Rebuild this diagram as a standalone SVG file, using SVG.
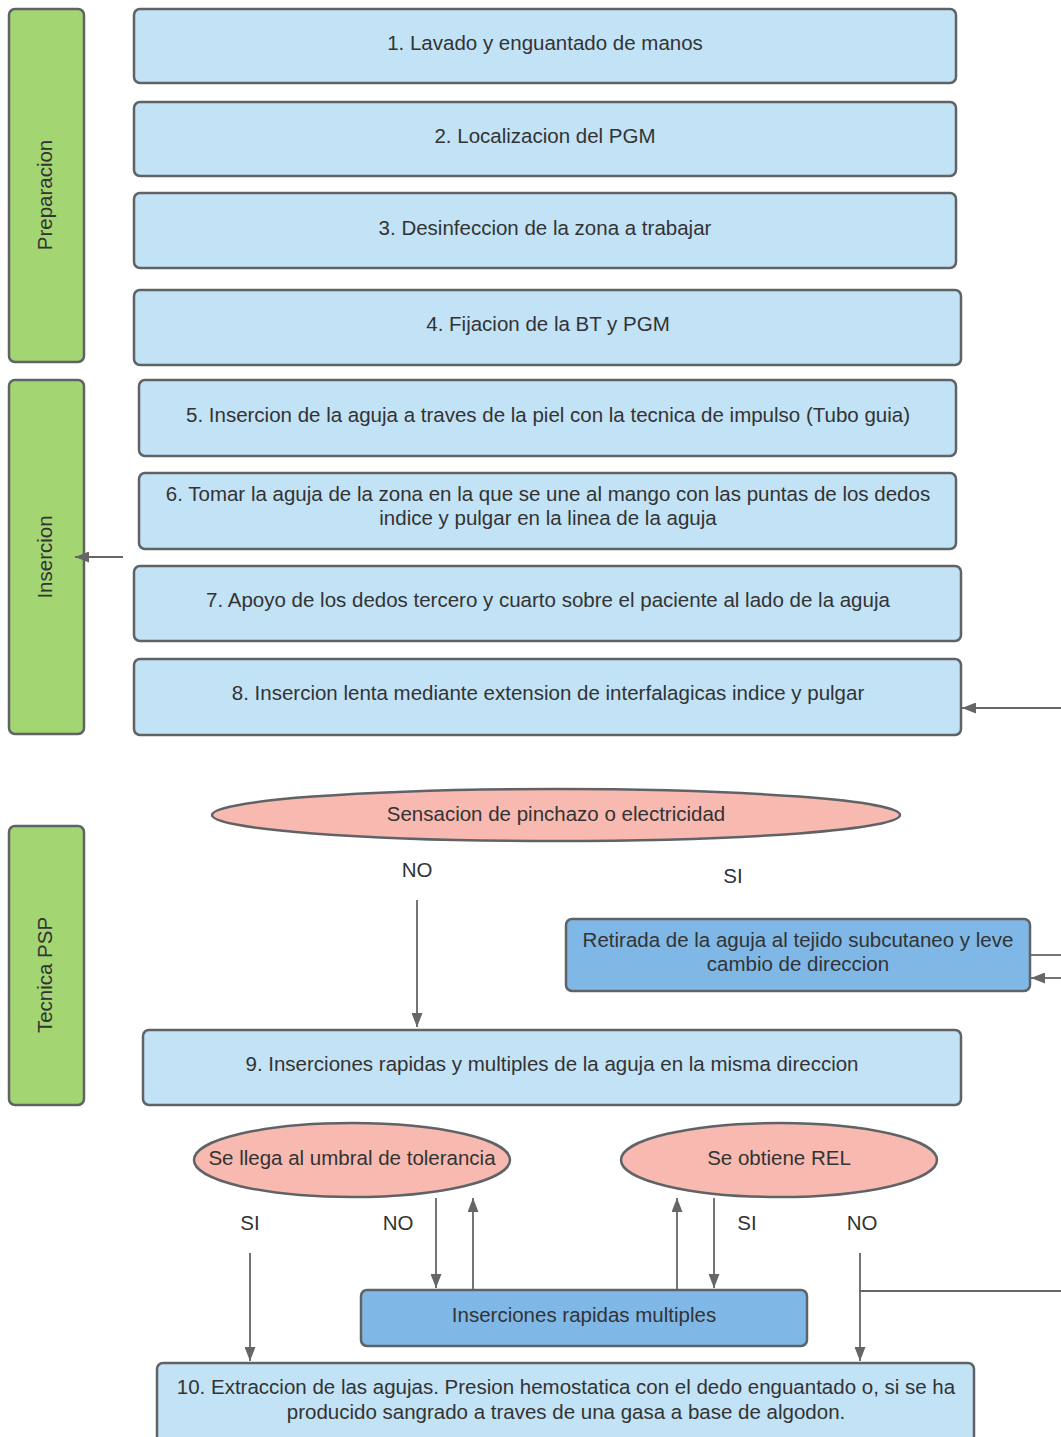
<svg xmlns="http://www.w3.org/2000/svg" width="1061" height="1437" viewBox="0 0 1061 1437">
<defs>
<style>
.g{fill:#a3d572;stroke:#5f6366;stroke-width:2.5}
.b{fill:#c2e2f6;stroke:#5f6366;stroke-width:2.5}
.d{fill:#7fb8e6;stroke:#5f6366;stroke-width:2.5}
.p{fill:#f8b9b1;stroke:#5f6366;stroke-width:2.5}
text{font-family:"Liberation Sans",Arial,sans-serif;font-size:20.5px;fill:#333;text-anchor:middle;dominant-baseline:central}
.c{fill:none;stroke:#666;stroke-width:1.8}
</style>
<marker id="ah" viewBox="0 0 14 11" refX="14" refY="5.5" markerWidth="14" markerHeight="11" orient="auto" markerUnits="userSpaceOnUse"><path d="M0,0 L14,5.5 L0,11 z" fill="#666"/></marker>
</defs>
<rect width="1061" height="1437" fill="#fff"/>
<g id="prep"><rect class="g" x="9" y="9" width="75" height="353" rx="6"/><text transform="translate(44,195) rotate(-90)">Preparacion</text></g>
<g id="ins"><rect class="g" x="9" y="380" width="75" height="354" rx="6"/><text transform="translate(44,557) rotate(-90)">Insercion</text></g>
<g id="psp"><rect class="g" x="9" y="826" width="75" height="279" rx="6"/><text transform="translate(44,975) rotate(-90)">Tecnica PSP</text></g>

<g id="n1"><rect class="b" x="134" y="9" width="822" height="74" rx="6"/><text x="545" y="42">1. Lavado y enguantado de manos</text></g>
<g id="n2"><rect class="b" x="134" y="102" width="822" height="74" rx="6"/><text x="545" y="135">2. Localizacion del PGM</text></g>
<g id="n3"><rect class="b" x="134" y="193" width="822" height="75" rx="6"/><text x="545" y="227">3. Desinfeccion de la zona a trabajar</text></g>
<g id="n4"><rect class="b" x="134" y="290" width="827" height="75" rx="6"/><text x="548" y="323">4. Fijacion de la BT y PGM</text></g>
<g id="n5"><rect class="b" x="139" y="380" width="817" height="76" rx="6"/><text x="548" y="414">5. Insercion de la aguja a traves de la piel con la tecnica de impulso (Tubo guia)</text></g>
<g id="n6"><rect class="b" x="139" y="473" width="817" height="76" rx="6"/><text x="548" y="493">6. Tomar la aguja de la zona en la que se une al mango con las puntas de los dedos</text><text x="548" y="517">indice y pulgar en la linea  de la aguja</text></g>
<g id="n7"><rect class="b" x="134" y="566" width="827" height="75" rx="6"/><text x="548" y="599">7. Apoyo de los dedos tercero y cuarto sobre el paciente al lado de la aguja</text></g>
<g id="n8"><rect class="b" x="134" y="659" width="827" height="76" rx="6"/><text x="548" y="692">8. Insercion lenta mediante extension de interfalagicas indice y pulgar</text></g>
<g id="e1"><ellipse class="p" cx="556" cy="815" rx="344" ry="26"/><text x="556" y="813">Sensacion de pinchazo o electricidad</text></g>
<g id="r1"><rect class="d" x="566" y="919" width="464" height="72" rx="6"/><text x="798" y="939">Retirada de la aguja al tejido subcutaneo y leve</text><text x="798" y="963">cambio de direccion</text></g>
<g id="n9"><rect class="b" x="143" y="1030" width="818" height="75" rx="6"/><text x="552" y="1063">9. Inserciones rapidas y multiples de la aguja en la misma direccion</text></g>
<g id="e2"><ellipse class="p" cx="352" cy="1160" rx="158" ry="37"/><text x="352" y="1157">Se llega al umbral de tolerancia</text></g>
<g id="e3"><ellipse class="p" cx="779" cy="1160" rx="158" ry="37"/><text x="779" y="1157">Se obtiene REL</text></g>
<g id="r2"><rect class="d" x="361" y="1290" width="446" height="56" rx="6"/><text x="584" y="1314">Inserciones rapidas multiples</text></g>
<g id="n10"><rect class="b" x="157" y="1363" width="817" height="80" rx="6"/><text x="566" y="1386">10. Extraccion de las agujas. Presion hemostatica con el dedo enguantado o, si se ha</text><text x="566" y="1411">producido sangrado a traves de una gasa a base de algodon.</text></g>

<g id="labels">
<text x="417" y="869">NO</text>
<text x="733" y="875">SI</text>
<text x="250" y="1222">SI</text>
<text x="398" y="1222">NO</text>
<text x="747" y="1222">SI</text>
<text x="862" y="1222">NO</text>
</g>

<g id="connectors">
<line class="c" x1="123" y1="557" x2="75" y2="557" marker-end="url(#ah)"/>
<line class="c" x1="1061" y1="708" x2="962" y2="708" marker-end="url(#ah)"/>
<line class="c" x1="417" y1="900" x2="417" y2="1027" marker-end="url(#ah)"/>
<line class="c" x1="1031" y1="955" x2="1061" y2="955"/>
<line class="c" x1="1061" y1="978" x2="1031" y2="978" marker-end="url(#ah)"/>
<line class="c" x1="436" y1="1198" x2="436" y2="1288" marker-end="url(#ah)"/>
<line class="c" x1="473" y1="1289" x2="473" y2="1198" marker-end="url(#ah)"/>
<line class="c" x1="677" y1="1289" x2="677" y2="1198" marker-end="url(#ah)"/>
<line class="c" x1="714" y1="1198" x2="714" y2="1288" marker-end="url(#ah)"/>
<line class="c" x1="250" y1="1253" x2="250" y2="1361" marker-end="url(#ah)"/>
<line class="c" x1="860" y1="1253" x2="860" y2="1361" marker-end="url(#ah)"/>
<line class="c" x1="860" y1="1291" x2="1061" y2="1291"/>
</g>
</svg>
